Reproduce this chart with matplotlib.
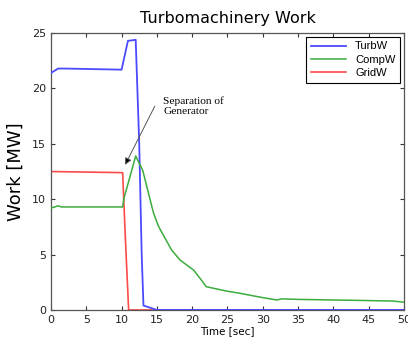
import numpy as np
import matplotlib.pyplot as plt

# values
turb_t = [0, 1, 2, 10, 10.9, 12, 12.5, 12.85, 13.1, 15, 50]
turb_w = [21.4, 21.8, 21.8, 21.7, 24.3, 24.4, 15.0, 5.0, 0.4, 0.0, 0.0]

comp_t = [0, 1, 1.5, 10.15, 10.3, 12.0, 13.0, 14.5, 15.2, 15.7, 17.1, 18.3, 20.2,
          21.3, 22.0, 24.9, 26.8, 30.1, 32.0, 32.7, 35.3, 40.0, 44.7, 48.5, 50]
comp_w = [9.2, 9.4, 9.3, 9.3, 10.0, 13.9, 12.6, 8.8, 7.6, 7.0, 5.4, 4.5, 3.6,
          2.7, 2.1, 1.7, 1.5, 1.1, 0.9, 1.0, 0.95, 0.9, 0.85, 0.8, 0.7]

grid_t = [0, 10.15, 10.5, 11.0, 50]
grid_w = [12.5, 12.4, 7.0, 0.0, 0.0]

fig = plt.figure(figsize=(4.08, 3.38), dpi=100)
ax = fig.add_axes([0.125, 0.083, 0.865, 0.819])
plt.rcParams['font.family'] = ['Liberation Sans', 'DejaVu Sans']

ax.plot(grid_t, grid_w, color='#ff4a4a', lw=1.2, label='GridW', zorder=2)
ax.plot(turb_t, turb_w, color='#4a4aff', lw=1.3, label='TurbW', zorder=3)
ax.plot(comp_t, comp_w, color='#3cac3c', lw=1.1, label='CompW', zorder=4)

h, l = ax.get_legend_handles_labels()
order = [1, 2, 0]
leg = ax.legend([h[i] for i in order], [l[i] for i in order], loc='upper right',
                fancybox=False, edgecolor='black', framealpha=1,
                handlelength=3.2, borderaxespad=0.35, labelspacing=0.3,
                prop={'family': 'Liberation Sans', 'size': 8})
leg.get_frame().set_linewidth(0.8)

# annotation: text and arrow placed separately
ax.text(15.9, 18.4, 'Separation of\nGenerator', fontsize=8.2,
        family='Liberation Serif', va='center', ha='left', linespacing=1.25)
ax.annotate('', xy=(10.5, 13.1), xytext=(14.7, 18.4),
            arrowprops=dict(arrowstyle='-|>', color='#555555', lw=0.7,
                            shrinkA=0, shrinkB=0, mutation_scale=10,
                            fc='black', ec='#555555'))

ax.set_xlim(0, 50)
ax.set_ylim(0, 25)
ax.set_xticks(np.arange(0, 51, 5))
ax.set_yticks(np.arange(0, 26, 5))
ax.tick_params(direction='in', top=True, right=True, labelsize=8,
               length=3, colors='#333333', labelcolor='#222222')
for s in ax.spines.values():
    s.set_color('#555555')
    s.set_linewidth(0.9)

ax.set_title('Turbomachinery Work', fontsize=11.5, pad=7)
ax.set_ylabel('Work [MW]', fontsize=13, labelpad=5)
ax.set_xlabel('Time [sec]', fontsize=7.5, labelpad=1)

fig.savefig('out.png', dpi=100)
